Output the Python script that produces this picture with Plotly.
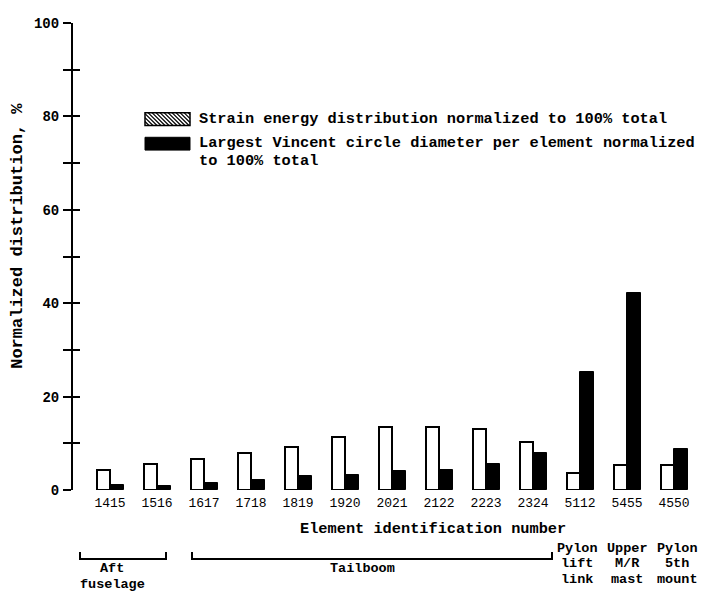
import plotly.graph_objects as go

elements = ["1415", "1516", "1617", "1718", "1819", "1920", "2021", "2122", "2223", "2324", "5112", "5455", "4550"]
strain_energy = [4.2, 5.5, 6.7, 7.9, 9.3, 11.4, 13.4, 13.4, 13.0, 10.3, 3.7, 5.3, 5.4]
vincent_circle = [1.0, 0.9, 1.5, 2.1, 3.0, 3.2, 4.0, 4.2, 5.6, 7.9, 25.3, 42.2, 8.8]
y_tick_vals = [0, 10, 20, 30, 40, 50, 60, 70, 80, 90, 100]
y_tick_text = ["0", "", "20", "", "40", "", "60", "", "80", "", "100"]

legend_line1 = "Strain energy distribution normalized to 100% total"
legend_line2a = "Largest Vincent circle diameter per element normalized"
legend_line2b = "to 100% total"

# the page has an 8px body margin; work in reference-pixel coordinates
OFF = 8
W, H = 715 - OFF, 594 - OFF
L, R, T, B = 73, 705, 16, 490   # plot area in reference pixels
FONT = "Liberation Mono"

def px(x):
    return (x - L) / (R - L)

def py(y):
    return (B - y) / (B - T)

xpos = list(range(len(elements)))

fig = go.Figure()
fig.add_trace(go.Bar(
    x=xpos, y=strain_energy, width=0.27, offset=-0.27,
    marker=dict(color="white", line=dict(color="black", width=2)),
    name=legend_line1, showlegend=False, yaxis="y",
))
fig.add_trace(go.Bar(
    x=xpos, y=vincent_circle, width=0.29, offset=0.0,
    marker=dict(color="black", line=dict(color="black", width=1)),
    name=legend_line2a + " " + legend_line2b, showlegend=False, yaxis="y",
))
fig.add_trace(go.Scatter(x=[0], y=[0], yaxis="y2", mode="markers",
                         marker=dict(opacity=0), showlegend=False, hoverinfo="skip"))

xmin = -(110 - L) / 47.0
xmax = xmin + (R - L) / 47.0

fig.update_layout(
    width=W, height=H,
    margin=dict(l=L - OFF, r=(W + OFF) - R, t=T - OFF, b=(H + OFF) - B),
    paper_bgcolor="white", plot_bgcolor="white",
    font=dict(family=FONT, color="black"),
    bargap=0,
    xaxis=dict(range=[xmin, xmax], tickvals=xpos, ticktext=elements,
               showline=False, showgrid=False, zeroline=False, ticks="",
               tickfont=dict(family=FONT, size=13, color="black"),
               ticklabelstandoff=3),
    yaxis=dict(range=[0, 100], tickvals=y_tick_vals, ticktext=y_tick_text,
               showline=True, linecolor="black", linewidth=2,
               showgrid=False, zeroline=False,
               ticks="outside", ticklen=8, tickwidth=2, tickcolor="black",
               tickfont=dict(family=FONT, size=14, color="black", weight="bold"),
               ticklabelstandoff=1),
    yaxis2=dict(range=[0, 100], overlaying="y", side="left", anchor="x",
                tickvals=y_tick_vals, showticklabels=False,
                showline=False, showgrid=False, zeroline=False,
                ticks="inside", ticklen=7, tickwidth=2, tickcolor="black"),
)

shapes = []
annotations = []

def text(x, y, s, size=15.3, anchor="left", angle=0):
    annotations.append(dict(xref="paper", yref="paper", x=px(x), y=py(y),
                            xanchor=anchor, yanchor="middle", showarrow=False,
                            text=s, textangle=angle,
                            font=dict(family=FONT, size=size, weight="bold")))

# legend swatches
sx0, sx1 = 145, 190
s1y0, s1y1 = 107, 120
s2y0, s2y1 = 132, 145
shapes.append(dict(type="rect", xref="paper", yref="paper",
                   x0=px(sx0), x1=px(sx1), y0=py(s1y1), y1=py(s1y0),
                   fillcolor="white", line=dict(color="black", width=1.5)))
hatch = ""
step = 4
h = s1y1 - s1y0
xx = sx0 - h
while xx < sx1:
    a0 = max(xx, sx0)
    b0 = s1y0 + (a0 - xx)
    a1 = min(xx + h, sx1)
    b1 = s1y0 + (a1 - xx)
    if a1 > a0:
        hatch += f"M{px(a0)},{py(b0)} L{px(a1)},{py(b1)} "
    xx += step
shapes.append(dict(type="path", xref="paper", yref="paper", path=hatch,
                   line=dict(color="black", width=1.2)))
shapes.append(dict(type="rect", xref="paper", yref="paper",
                   x0=px(sx0), x1=px(sx1), y0=py(s2y1), y1=py(s2y0),
                   fillcolor="black", line=dict(color="black", width=1)))
text(197, 113, legend_line1)
text(197, 138, legend_line2a)
text(197, 156, legend_line2b)

# axis titles
text(18, 232, "Normalized distribution, %", size=17, anchor="center", angle=-90)
text(433, 530, "Element identification number", anchor="center")

# group brackets
def bracket(x0, x1, ytop, ybot):
    return dict(type="path", xref="paper", yref="paper",
                path=f"M{px(x0)},{py(ytop)} L{px(x0)},{py(ybot)} L{px(x1)},{py(ybot)} L{px(x1)},{py(ytop)}",
                line=dict(color="black", width=2))
shapes.append(bracket(80, 166, 553, 560))
shapes.append(bracket(192, 552, 553, 560))

group_labels = [
    (112, [(570, "Aft"), (586, "fuselage")]),
    (362, [(570, "Tailboom")]),
    (577, [(549, "Pylon"), (565, "lift"), (581, "link")]),
    (627, [(549, "Upper"), (565, "M/R"), (581, "mast")]),
    (677, [(549, "Pylon"), (565, "5th"), (581, "mount")]),
]
for gx, lines in group_labels:
    for gy, s in lines:
        text(gx, gy, s, size=13.5, anchor="center")

fig.update_layout(shapes=shapes, annotations=annotations)
fig.write_html("out.html")
